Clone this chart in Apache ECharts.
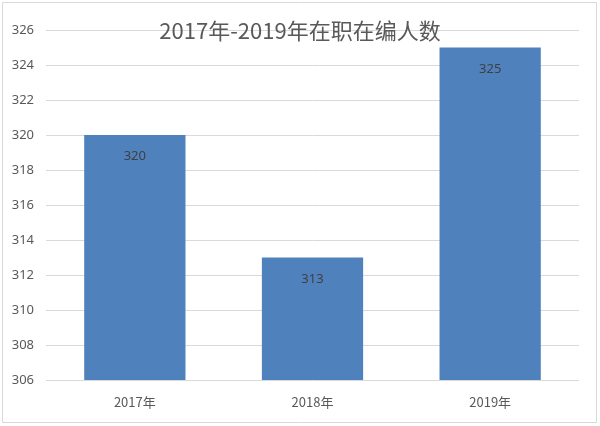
<!DOCTYPE html>
<html>
<head>
<meta charset="utf-8">
<script src="https://cdn.jsdelivr.net/npm/echarts@6/dist/echarts.min.js"></script>
<style>
  html, body { margin: 0; padding: 0; background: #fff; }
  #main { width: 600px; height: 426px; }
</style>
</head>
<body>
<div id="main"></div>
<script>
// 数据
var titleText = '2017年-2019年在职在编人数'
var categories = ['2017年', '2018年', '2019年']
var values = [320, 313, 325]
var yMin = 306
var yMax = 326
var yStep = 2

var myChart = echarts.init(document.getElementById('main'))

var option = {
    animation: false,
    backgroundColor: '#fff',
    title: {
        text: titleText,
        left: 'center',
        top: 15,
        textStyle: {
            color: '#595959',
            fontSize: 22,
            fontWeight: 'normal',
            fontFamily: 'Noto Sans CJK SC'
        }
    },
    graphic: [{
        type: 'rect',
        shape: { x: 2.5, y: 2.5, width: 594, height: 420 },
        style: { fill: 'none', stroke: '#d9d9d9', lineWidth: 1 },
        silent: true,
        z: -1
    }],
    grid: {
        left: 46,
        right: 21,
        top: 30,
        bottom: 46,
        containLabel: false
    },
    xAxis: {
        type: 'category',
        data: categories,
        axisLine: { show: false },
        axisTick: { show: false },
        axisLabel: {
            color: '#595959',
            fontSize: 13,
            margin: 16,
            fontFamily: 'Noto Sans CJK SC'
        }
    },
    yAxis: {
        type: 'value',
        min: yMin,
        max: yMax,
        interval: yStep,
        axisLine: { show: false },
        axisTick: { show: false },
        splitLine: { lineStyle: { color: '#d9d9d9', width: 1 } },
        axisLabel: {
            color: '#595959',
            fontSize: 13,
            margin: 12,
            fontFamily: 'Liberation Sans Narrow, Noto Sans, sans-serif'
        }
    },
    series: [{
        type: 'bar',
        data: values,
        barWidth: '57%',
        itemStyle: { color: '#4f81bd' },
        label: {
            show: true,
            position: 'insideTop',
            distance: 15,
            color: '#404040',
            fontSize: 13,
            fontFamily: 'Liberation Sans Narrow, Noto Sans, sans-serif'
        }
    }]
}

myChart.setOption(option)
</script>
</body>
</html>
